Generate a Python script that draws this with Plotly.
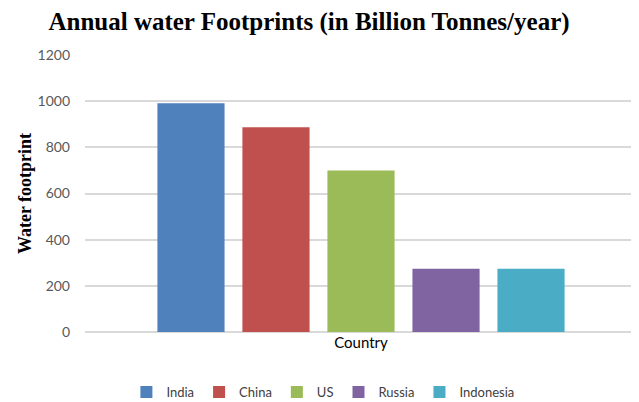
import plotly.graph_objects as go

countries = ["India", "China", "US", "Russia", "Indonesia"]
footprints = [991, 887, 700, 274, 274]
colors = ["#4F81BD", "#C0504D", "#9BBB59", "#8064A2", "#4BACC6"]
category = ["Country"]
y_ticks = [0, 200, 400, 600, 800, 1000, 1200]

SANS = "Lato, sans-serif"

fig = go.Figure()
for name, val, col in zip(countries, footprints, colors):
    fig.add_trace(go.Bar(x=category, y=[val], name=name, marker_color=col,
                         marker_line_width=0))

fig.update_layout(
    width=631, height=394,
    paper_bgcolor="white", plot_bgcolor="white",
    margin=dict(l=77, r=2, t=47, b=70, autoexpand=False),
    barmode="group", bargap=0.23, bargroupgap=0.21,
    title=dict(text="<b>Annual water Footprints (in Billion Tonnes/year)</b>",
               font=dict(family="Liberation Serif", size=25, color="black"),
               x=301 / 631, xanchor="center", xref="container",
               y=1, yref="container", yanchor="top", pad=dict(t=4)),
    font=dict(family=SANS, size=14, color="#595959"),
    legend=dict(orientation="h", x=0.431, xanchor="center", y=-0.217, yanchor="middle",
                font=dict(size=13, color="#404040", family=SANS), itemwidth=30,
                traceorder="normal"),
    showlegend=True,
)
fig.update_xaxes(showgrid=False, showline=False, ticks="", automargin=False,
                 tickfont=dict(size=15, color="black", family=SANS))
fig.update_yaxes(range=[0, 1200], tickvals=y_ticks, showgrid=True, automargin=False,
                 gridcolor="#D9D9D9", gridwidth=1.5, zeroline=True,
                 zerolinecolor="#D9D9D9", zerolinewidth=1.5,
                 tickfont=dict(size=14, color="#595959", family=SANS), ticklabelstandoff=14,
                 title=dict(text="<b>Water footprint</b>", standoff=1,
                            font=dict(family="Liberation Serif", size=18, color="black")))

fig.write_html("out.html")
